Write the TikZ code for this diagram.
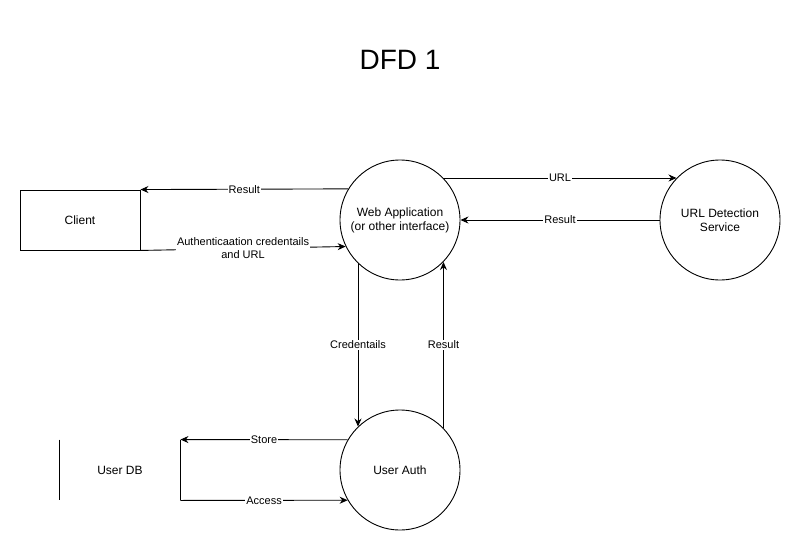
\documentclass[tikz,border=0pt]{standalone}
\usepackage{fontspec}
\setmainfont{Liberation Sans}
\usetikzlibrary{arrows.meta}
\begin{document}
\begin{tikzpicture}[
    x=1pt, y=-1pt,
    line width=0.9pt,
    >={Stealth[length=8pt,width=7pt]},
    proc/.style={draw, circle, minimum size=120pt, inner sep=0pt, align=center,
                 font=\fontsize{12}{14}\selectfont},
    lbl/.style={fill=white, inner sep=1pt, font=\fontsize{11}{13}\selectfont}
]
  \useasboundingbox (0,0) rectangle (801,551);
  \node (title) at (400,60) {\fontsize{28}{32}\selectfont DFD 1};
  % entities and processes
  \node[draw, minimum width=120pt, minimum height=60pt, font=\fontsize{12}{14}\selectfont]
    (client) at (80,220) {Client};
  \node[proc] (web) at (400,220) {Web Application\\(or other interface)};
  \node[proc] (urld) at (720,220) {URL Detection\\Service};
  \node[proc] (auth) at (400,470) {User Auth};
  \node[minimum width=120pt, minimum height=60pt, font=\fontsize{12}{14}\selectfont]
    (userdb) at (120,470) {User DB};
  \draw (userdb.north west) -- (userdb.south west);
  \draw (userdb.north east) -- (userdb.south east);
  % flows
  \draw[->] (web.149) -- node[lbl] {Result} (client.north east);
  \draw[->] (client.south east) -- node[lbl, align=center] {Authenticaation credentails\\and URL} (web.206);
  \draw[->] (web.44) -- node[lbl] {URL} (urld.136);
  \draw[->] (urld.west) -- node[lbl] {Result} (web.east);
  \draw[->] (web.-134) -- node[lbl] {Credentails} (auth.134);
  \draw[->] (auth.44) -- node[lbl] {Result} (web.-44);
  \draw[->] (auth.150) -- node[lbl] {Store} (userdb.north east);
  \draw[->] (userdb.south east) -- node[lbl] {Access} (auth.210);
\end{tikzpicture}
\end{document}
